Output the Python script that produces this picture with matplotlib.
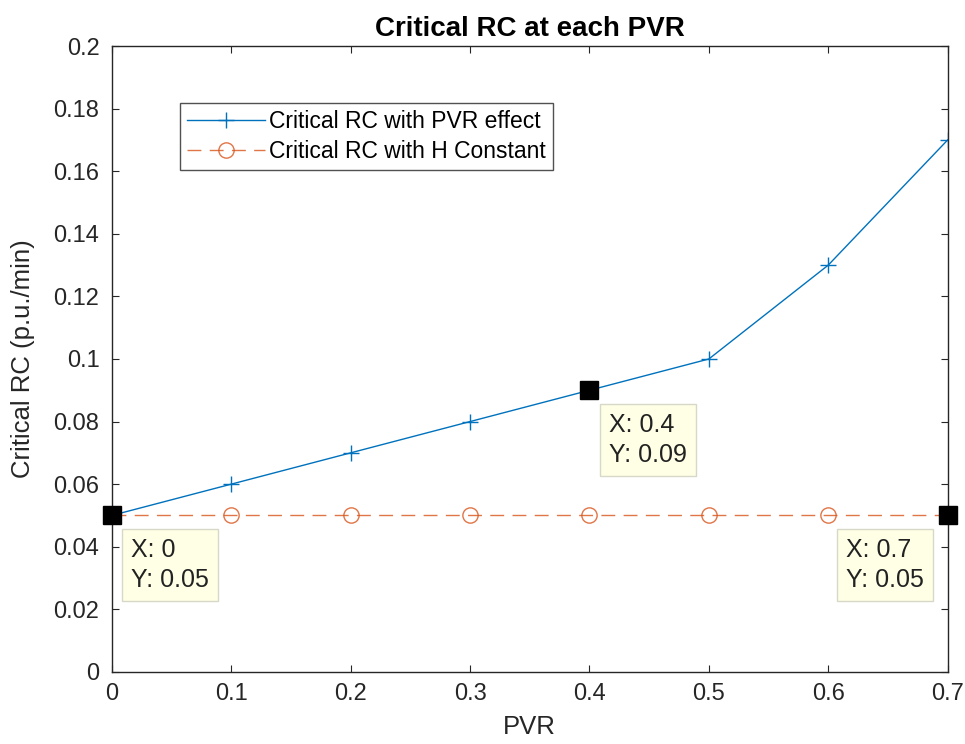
import matplotlib
matplotlib.use("Agg")
from matplotlib import pyplot as plt

plt.rcParams['font.family'] = ['Liberation Sans', 'DejaVu Sans']

pvr = [0, 0.1, 0.2, 0.3, 0.4, 0.5, 0.6, 0.7]
rc_pvr = [0.05, 0.06, 0.07, 0.08, 0.09, 0.10, 0.13, 0.17]
rc_h_const = [0.05, 0.05, 0.05, 0.05, 0.05, 0.05, 0.05, 0.05]

x_ticks = [0, 0.1, 0.2, 0.3, 0.4, 0.5, 0.6, 0.7]
y_ticks = [0, 0.02, 0.04, 0.06, 0.08, 0.1, 0.12, 0.14, 0.16, 0.18, 0.2]
y_tick_labels = ['0', '0.02', '0.04', '0.06', '0.08', '0.1', '0.12', '0.14', '0.16', '0.18', '0.2']
x_tick_labels = ['0', '0.1', '0.2', '0.3', '0.4', '0.5', '0.6', '0.7']

# data tips shown on the chart
tips = [(0, 0.05), (0.4, 0.09), (0.7, 0.05)]
tip_labels = [("0", "0.05"), ("0.4", "0.09"), ("0.7", "0.05")]
tip_align = ['left', 'left', 'right']

blue = '#0072BD'
orange = '#D95319'
text_col = '#262626'

fig = plt.figure(figsize=(9.65, 7.44), dpi=100)
ax = fig.add_axes([0.116, 0.097, 0.866, 0.841])

ax.plot(pvr, rc_pvr, color=blue, lw=1.0, marker='+', ms=11, mew=1.0,
        label='Critical RC with PVR effect')
ax.plot(pvr, rc_h_const, color=orange, lw=1.0, ls=(0, (10, 6)), marker='o', ms=11,
        mfc='none', mew=1.0, alpha=0.8, label='Critical RC with H Constant')

for (tx, ty), (lx, ly), ha in zip(tips, tip_labels, tip_align):
    ax.plot(tx, ty, marker='s', color='black', ms=13, clip_on=False, zorder=5)
    off = (14, -16.5) if ha == 'left' else (-17, -16.5)
    ax.annotate(f"X: {lx}\nY: {ly}", xy=(tx, ty), xytext=off, textcoords='offset points',
                ha=ha, va='top', multialignment='left', fontsize=18, linespacing=1.32,
                color='#222222',
                bbox=dict(boxstyle='square,pad=0.36', fc='#FFFFE6', ec='#D8D8C8', lw=1.0),
                zorder=6, annotation_clip=False)

ax.set_xlim(0, 0.7)
ax.set_ylim(0, 0.2)
ax.set_xticks(x_ticks)
ax.set_xticklabels(x_tick_labels)
ax.set_yticks(y_ticks)
ax.set_yticklabels(y_tick_labels)
ax.tick_params(direction='in', length=5, top=True, right=True, labelsize=17,
               colors=text_col)
ax.tick_params(axis='y', pad=9)
ax.tick_params(axis='x', pad=8)
for s in ax.spines.values():
    s.set_color(text_col)
    s.set_linewidth(1.0)

ax.set_title("Critical RC at each PVR", fontsize=20, fontweight='bold', pad=7)
ax.set_xlabel("PVR", fontsize=18.5, color=text_col, labelpad=7)
ax.set_ylabel("Critical RC (p.u./min)", fontsize=18.5, color=text_col, labelpad=13)

leg = ax.legend(loc='upper left', bbox_to_anchor=(0.0813, 0.909), fontsize=16.5,
                frameon=True, fancybox=False, edgecolor=text_col, handlelength=3.4,
                handletextpad=0.2, borderpad=0.3, labelspacing=0.3, borderaxespad=0)
leg.get_frame().set_linewidth(1.0)

fig.savefig("out.png", dpi=100)
